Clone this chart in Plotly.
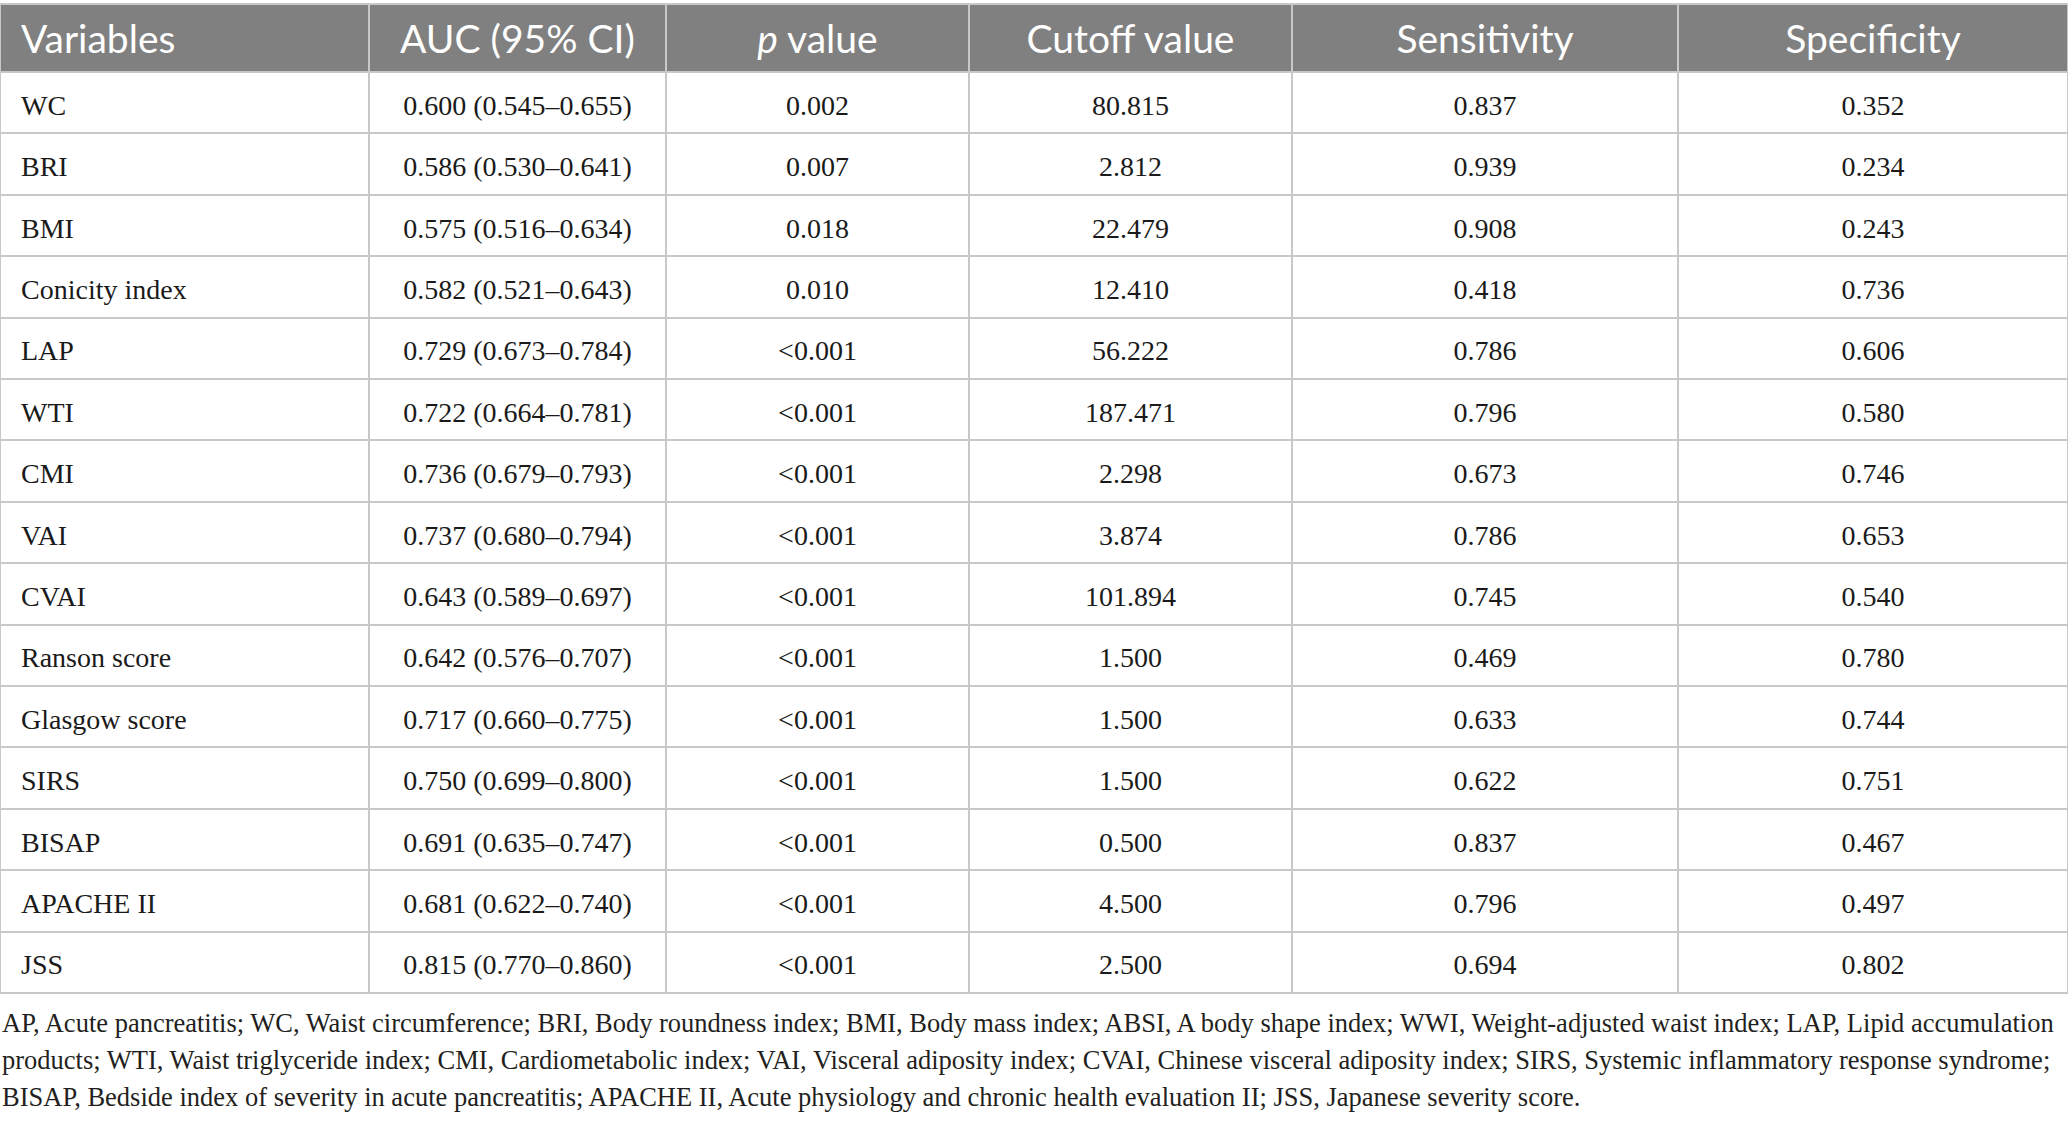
import plotly.graph_objects as go

# ROC results for predicting severity of acute pancreatitis
variables = ["WC", "BRI", "BMI", "Conicity index", "LAP", "WTI", "CMI", "VAI",
             "CVAI", "Ranson score", "Glasgow score", "SIRS", "BISAP",
             "APACHE II", "JSS"]
auc_ci = ["0.600 (0.545–0.655)", "0.586 (0.530–0.641)", "0.575 (0.516–0.634)",
          "0.582 (0.521–0.643)", "0.729 (0.673–0.784)", "0.722 (0.664–0.781)",
          "0.736 (0.679–0.793)", "0.737 (0.680–0.794)", "0.643 (0.589–0.697)",
          "0.642 (0.576–0.707)", "0.717 (0.660–0.775)", "0.750 (0.699–0.800)",
          "0.691 (0.635–0.747)", "0.681 (0.622–0.740)", "0.815 (0.770–0.860)"]
p_values = ["0.002", "0.007", "0.018", "0.010", "<0.001", "<0.001", "<0.001",
            "<0.001", "<0.001", "<0.001", "<0.001", "<0.001", "<0.001",
            "<0.001", "<0.001"]
cutoffs = ["80.815", "2.812", "22.479", "12.410", "56.222", "187.471", "2.298",
           "3.874", "101.894", "1.500", "1.500", "1.500", "0.500", "4.500",
           "2.500"]
sensitivity = ["0.837", "0.939", "0.908", "0.418", "0.786", "0.796", "0.673",
               "0.786", "0.745", "0.469", "0.633", "0.622", "0.837", "0.796",
               "0.694"]
specificity = ["0.352", "0.234", "0.243", "0.736", "0.606", "0.580", "0.746",
               "0.653", "0.540", "0.780", "0.744", "0.751", "0.467", "0.497",
               "0.802"]
headers = ["Variables", "AUC (95% CI)", "<i>p</i> value", "Cutoff value",
           "Sensitivity", "Specificity"]

footnote = [
    "AP, Acute pancreatitis; WC, Waist circumference; BRI, Body roundness index; BMI, Body mass index; ABSI, A body shape index; WWI, Weight-adjusted waist index; LAP, Lipid accumulation",
    "products; WTI, Waist triglyceride index; CMI, Cardiometabolic index; VAI, Visceral adiposity index; CVAI, Chinese visceral adiposity index; SIRS, Systemic inflammatory response syndrome;",
    "BISAP, Bedside index of severity in acute pancreatitis; APACHE II, Acute physiology and chronic health evaluation II; JSS, Japanese severity score.",
]

W, H = 2068, 1121
col_widths = [369, 297, 303, 323, 386, 390]
top, header_h, row_h = 4, 68, 61.4
left_pad = 21
text_drop = 5  # plotly centres the em box, caps sit a bit high

# cell edges (axes are in pixel units)
x_edges = [0]
for w in col_widths:
    x_edges.append(x_edges[-1] + w)
y_edges = [top, top + header_h]
for _ in variables:
    y_edges.append(y_edges[-1] + row_h)
x_mid = [(a + b) / 2 for a, b in zip(x_edges[:-1], x_edges[1:])]
y_mid = [(a + b) / 2 + text_drop for a, b in zip(y_edges[:-1], y_edges[1:])]
bottom = y_edges[-1]

body_cols = [variables, auc_ci, p_values, cutoffs, sensitivity, specificity]
n_rows = len(variables)

fig = go.Figure()

# cell backgrounds: header row grey, body white; gaps show the grid colour
z = [[1] * len(headers)] + [[0] * len(headers) for _ in range(n_rows)]
fig.add_trace(go.Heatmap(
    x=x_edges, y=y_edges, z=z,
    colorscale=[[0, "white"], [1, "#808080"]], zmin=0, zmax=1,
    showscale=False, xgap=2, ygap=2, hoverinfo="skip",
))

# header text
head_font = dict(family="Lato", size=39, color="white")
fig.add_trace(go.Scatter(
    x=[left_pad], y=[y_mid[0]], text=[headers[0]], mode="text",
    textposition="middle right", hoverinfo="skip", textfont=head_font,
))
fig.add_trace(go.Scatter(
    x=x_mid[1:], y=[y_mid[0]] * (len(headers) - 1), text=headers[1:], mode="text",
    textposition="middle center", hoverinfo="skip", textfont=head_font,
))

# body text
body_font = dict(family="Liberation Serif", size=28, color="#1a1a1a")
fig.add_trace(go.Scatter(
    x=[left_pad] * n_rows, y=y_mid[1:], text=variables, mode="text",
    textposition="middle right", hoverinfo="skip", textfont=body_font,
))
xs, ys, ts = [], [], []
for j, col in enumerate(body_cols[1:], start=1):
    for i, v in enumerate(col):
        xs.append(x_mid[j])
        ys.append(y_mid[i + 1])
        ts.append(v)
fig.add_trace(go.Scatter(
    x=xs, y=ys, text=ts, mode="text", textposition="middle center",
    hoverinfo="skip", textfont=body_font,
))

for i, line in enumerate(footnote):
    fig.add_annotation(
        text=line, xref="paper", yref="paper", x=0, y=1 - (1040 + 37 * i) / H,
        xanchor="left", yanchor="bottom", showarrow=False,
        font=dict(family="Liberation Serif", size=26.5, color="#231f20"),
    )

fig.update_xaxes(range=[0, W], visible=False, fixedrange=True)
fig.update_yaxes(range=[bottom + 1, top - 1], visible=False, fixedrange=True,
                 domain=[1 - (bottom + 1) / H, 1 - (top - 1) / H])
fig.update_layout(
    width=W, height=H,
    margin=dict(l=0, r=0, t=0, b=0),
    paper_bgcolor="white", plot_bgcolor="#c8c8c8",
    showlegend=False,
)
fig.write_html("out.html", config={"displayModeBar": False},
               post_script="document.body.style.margin = '0';")
